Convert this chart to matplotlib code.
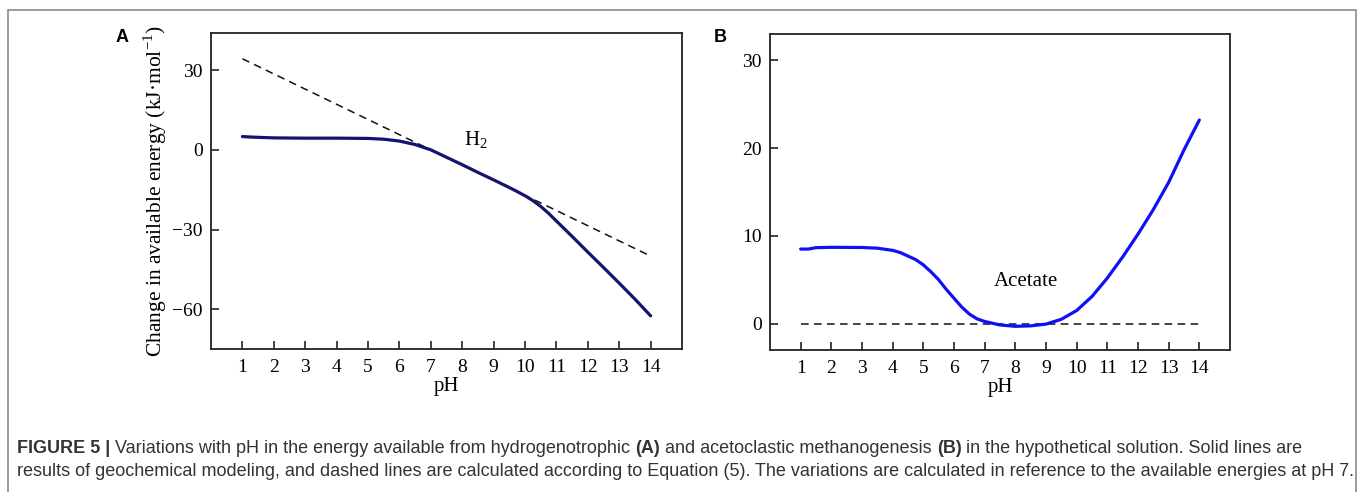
import matplotlib
matplotlib.use("Agg")
import matplotlib.pyplot as plt
from matplotlib.patches import Rectangle

# ---- data ----
ph_ticks = list(range(1, 15))

# Panel A: hydrogenotrophic (H2)
a_ph = [1.0, 1.3, 2.0, 3.0, 4.0, 5.0, 5.5, 6.0, 6.5, 7.0, 7.5, 8.0, 8.5, 9.0, 9.5,
        9.75, 10.0, 10.25, 10.5, 10.75, 11.0, 11.5, 12.0, 12.5, 13.0, 13.5, 14.0]
a_model = [5.0, 4.8, 4.5, 4.4, 4.4, 4.3, 4.0, 3.3, 2.0, 0.0, -2.8, -5.6, -8.5, -11.3, -14.2,
           -15.7, -17.3, -19.1, -21.3, -23.9, -26.8, -32.6, -38.5, -44.3, -50.2, -56.2, -62.5]
a_eq_ph = [1, 14]
a_eq = [34.3, -40.0]
a_yticks = [30, 0, -30, -60]
a_ytick_labels = ["30", "0", "\u221230", "\u221260"]

# Panel B: acetoclastic (acetate)
b_ph = [1.0, 1.25, 1.5, 2.0, 3.0, 3.5, 4.0, 4.25, 4.5, 4.75, 5.0, 5.25, 5.5, 5.75, 6.0,
        6.25, 6.5, 6.75, 7.0, 7.5, 8.0, 8.5, 9.0, 9.5, 10.0, 10.5, 11.0, 11.5, 12.0,
        12.5, 13.0, 13.5, 14.0]
b_model = [8.5, 8.5, 8.66, 8.7, 8.68, 8.6, 8.35, 8.1, 7.7, 7.3, 6.7, 5.9, 5.0, 3.9, 2.9,
           1.9, 1.1, 0.55, 0.25, -0.15, -0.3, -0.25, -0.05, 0.5, 1.5, 3.1, 5.2, 7.6, 10.2,
           13.0, 16.1, 19.8, 23.2]
b_eq_ph = [1, 14]
b_eq = [0, 0]
b_yticks = [0, 10, 20, 30]

caption_parts_1 = [("FIGURE 5 | ", "bold"),
                   ("Variations with pH in the energy available from hydrogenotrophic ", "normal"),
                   ("(A)", "bold"),
                   (" and acetoclastic methanogenesis ", "normal"),
                   ("(B)", "bold"),
                   (" in the hypothetical solution. Solid lines are", "normal")]
caption_line_2 = ("results of geochemical modeling, and dashed lines are calculated according to "
                  "Equation (5). The variations are calculated in reference to the available energies at pH 7.")

# ---- figure ----
W, H = 1358, 492
fig = plt.figure(figsize=(W / 100, H / 100), dpi=100)
serif = "Liberation Serif"
tick_fs = 14
lab_fs = 15


def style_axes(ax):
    for s in ax.spines.values():
        s.set_linewidth(1.3)
        s.set_color("#222222")
    ax.tick_params(direction="in", length=6, width=1.2, color="#222222",
                   labelsize=tick_fs, pad=6)
    ax.tick_params(axis="x", pad=7)
    ax.set_xlim(0, 15)
    ax.set_xticks(ph_ticks)
    ax.set_xticklabels([str(t) for t in ph_ticks], fontfamily=serif)
    ax.set_xlabel("pH", fontfamily=serif, fontsize=lab_fs, labelpad=1)


axA = fig.add_axes([211 / W, 1 - 349 / H, (682 - 211) / W, (349 - 33) / H])
axA.plot(a_eq_ph, a_eq, color="#111111", lw=1.1, dashes=(5, 3.5))
axA.plot(a_ph, a_model, color="#14146e", lw=2.3, solid_capstyle="round",
         solid_joinstyle="round")
axA.set_ylim(-75, 44)
axA.set_yticks(a_yticks)
axA.set_yticklabels(a_ytick_labels, fontfamily=serif)
style_axes(axA)
axA.set_ylabel("Change in available energy (kJ\u00b7mol$^{\\mathregular{\u22121}}$)",
               fontfamily=serif, fontsize=lab_fs + 0.5, labelpad=2)
axA.text(8.05, 3.8, "H$_\\mathregular{2}$", fontfamily=serif, fontsize=15,
         ha="left", va="center")

axB = fig.add_axes([770 / W, 1 - 350 / H, (1230 - 770) / W, (350 - 34) / H])
axB.plot(b_eq_ph, b_eq, color="#111111", lw=1.1, dashes=(5, 3.5))
axB.plot(b_ph, b_model, color="#1010f5", lw=2.3, solid_capstyle="round",
         solid_joinstyle="round")
axB.set_ylim(-3, 33)
axB.set_yticks(b_yticks)
axB.set_yticklabels([str(t) for t in b_yticks], fontfamily=serif)
style_axes(axB)
axB.text(7.3, 4.8, "Acetate", fontfamily=serif, fontsize=15, ha="left", va="center")

# panel letters
fig.text(122 / W, 1 - 37 / H, "A", fontfamily="Liberation Sans", fontweight="bold",
         fontsize=13, ha="center", va="center")
fig.text(720 / W, 1 - 37 / H, "B", fontfamily="Liberation Sans", fontweight="bold",
         fontsize=13, ha="center", va="center")

# outer frame
fig.patches.append(Rectangle((8 / W, -0.2), (1356 - 8) / W, 1.2 - 10 / H,
                             transform=fig.transFigure, fill=False,
                             edgecolor="#8a8a8a", lw=1.2))

# caption
cap_fs = 13
cap_col = "#333333"
cap_font = "Liberation Sans"
fig.canvas.draw()
renderer = fig.canvas.get_renderer()
x = 17 / W
y1 = 1 - 453 / H
for txt, wt in caption_parts_1:
    t = fig.text(x, y1, txt, fontfamily=cap_font, fontweight=wt, fontsize=cap_fs,
                 color=cap_col, ha="left", va="baseline")
    bb = t.get_window_extent(renderer)
    x = bb.x1 / W
fig.text(17 / W, 1 - 476 / H, caption_line_2, fontfamily=cap_font, fontsize=cap_fs,
         color=cap_col, ha="left", va="baseline")

fig.savefig("out.png", dpi=100)
